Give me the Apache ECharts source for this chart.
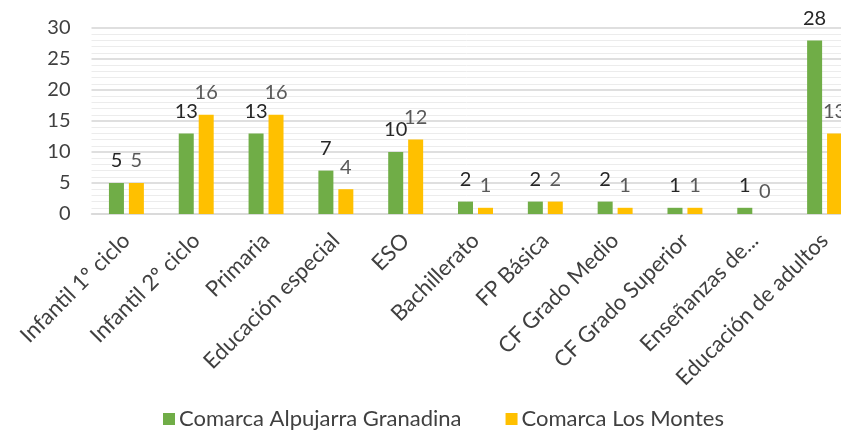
<!DOCTYPE html>
<html>
<head>
<meta charset="utf-8">
<style>
  html, body { margin: 0; padding: 0; background: #ffffff; }
  #chart { width: 841px; height: 431px; }
</style>
<script src="https://cdn.jsdelivr.net/npm/echarts@6/dist/echarts.min.js"></script>
</head>
<body>
<div id="chart"></div>
<script>
// Educational offer by level, two comarcas
const categories = [
  'Infantil 1º ciclo', 'Infantil 2º ciclo', 'Primaria', 'Educación especial', 'ESO',
  'Bachillerato', 'FP Básica', 'CF Grado Medio', 'CF Grado Superior', 'Enseñanzas de...',
  'Educación de adultos'
];
const seriesNames = ['Comarca Alpujarra Granadina', 'Comarca Los Montes'];
const alpujarra = [5, 13, 13, 7, 10, 2, 2, 2, 1, 1, 28];
const losMontes = [5, 16, 16, 4, 12, 1, 2, 1, 1, 0, 13];
const yTicks = [0, 5, 10, 15, 20, 25, 30];

const FONT = 'Lato';

const chart = echarts.init(document.getElementById('chart'));

function barSeries(name, values, color, labelColor) {
  return {
    name: name,
    type: 'bar',
    data: values,
    barWidth: 15,
    barGap: '33%',
    itemStyle: { color: color },
    label: {
      show: true,
      position: 'top',
      distance: 12,
      color: labelColor,
      fontFamily: FONT,
      fontSize: 20
    }
  };
}

chart.setOption({
  animation: false,
  // the plot runs past the right edge of the canvas on purpose
  grid: { left: 91.5, top: 28, width: 768, height: 186, outerBoundsMode: 'none', containLabel: false },
  legend: {
    left: 158,
    top: 403,
    itemWidth: 12,
    itemHeight: 12,
    itemGap: 44,
    icon: 'rect',
    textStyle: { fontFamily: FONT, fontSize: 22, color: '#404040', padding: [0, 0, 0, -1] },
    data: seriesNames
  },
  xAxis: {
    type: 'category',
    data: categories,
    axisLine: { lineStyle: { color: '#d9d9d9', width: 1.5 } },
    axisTick: { show: false },
    axisLabel: {
      rotate: 45,
      interval: 0,
      margin: 23,
      fontFamily: FONT,
      fontSize: 22,
      color: '#404040'
    }
  },
  yAxis: {
    type: 'value',
    min: yTicks[0],
    max: yTicks[yTicks.length - 1],
    interval: 5,
    axisLine: { show: false },
    axisTick: { show: false },
    axisLabel: {
      margin: 21,
      fontFamily: FONT,
      fontSize: 20,
      color: '#404040'
    },
    splitLine: { lineStyle: { color: '#d4d4d4', width: 1.5 } },
    minorTick: { show: false, splitNumber: 5 },
    minorSplitLine: { show: true, lineStyle: { color: '#ececec', width: 1 } }
  },
  series: [
    barSeries(seriesNames[0], alpujarra, '#70ad47', '#262626'),
    barSeries(seriesNames[1], losMontes, '#ffc000', '#595959')
  ]
});
</script>
</body>
</html>
